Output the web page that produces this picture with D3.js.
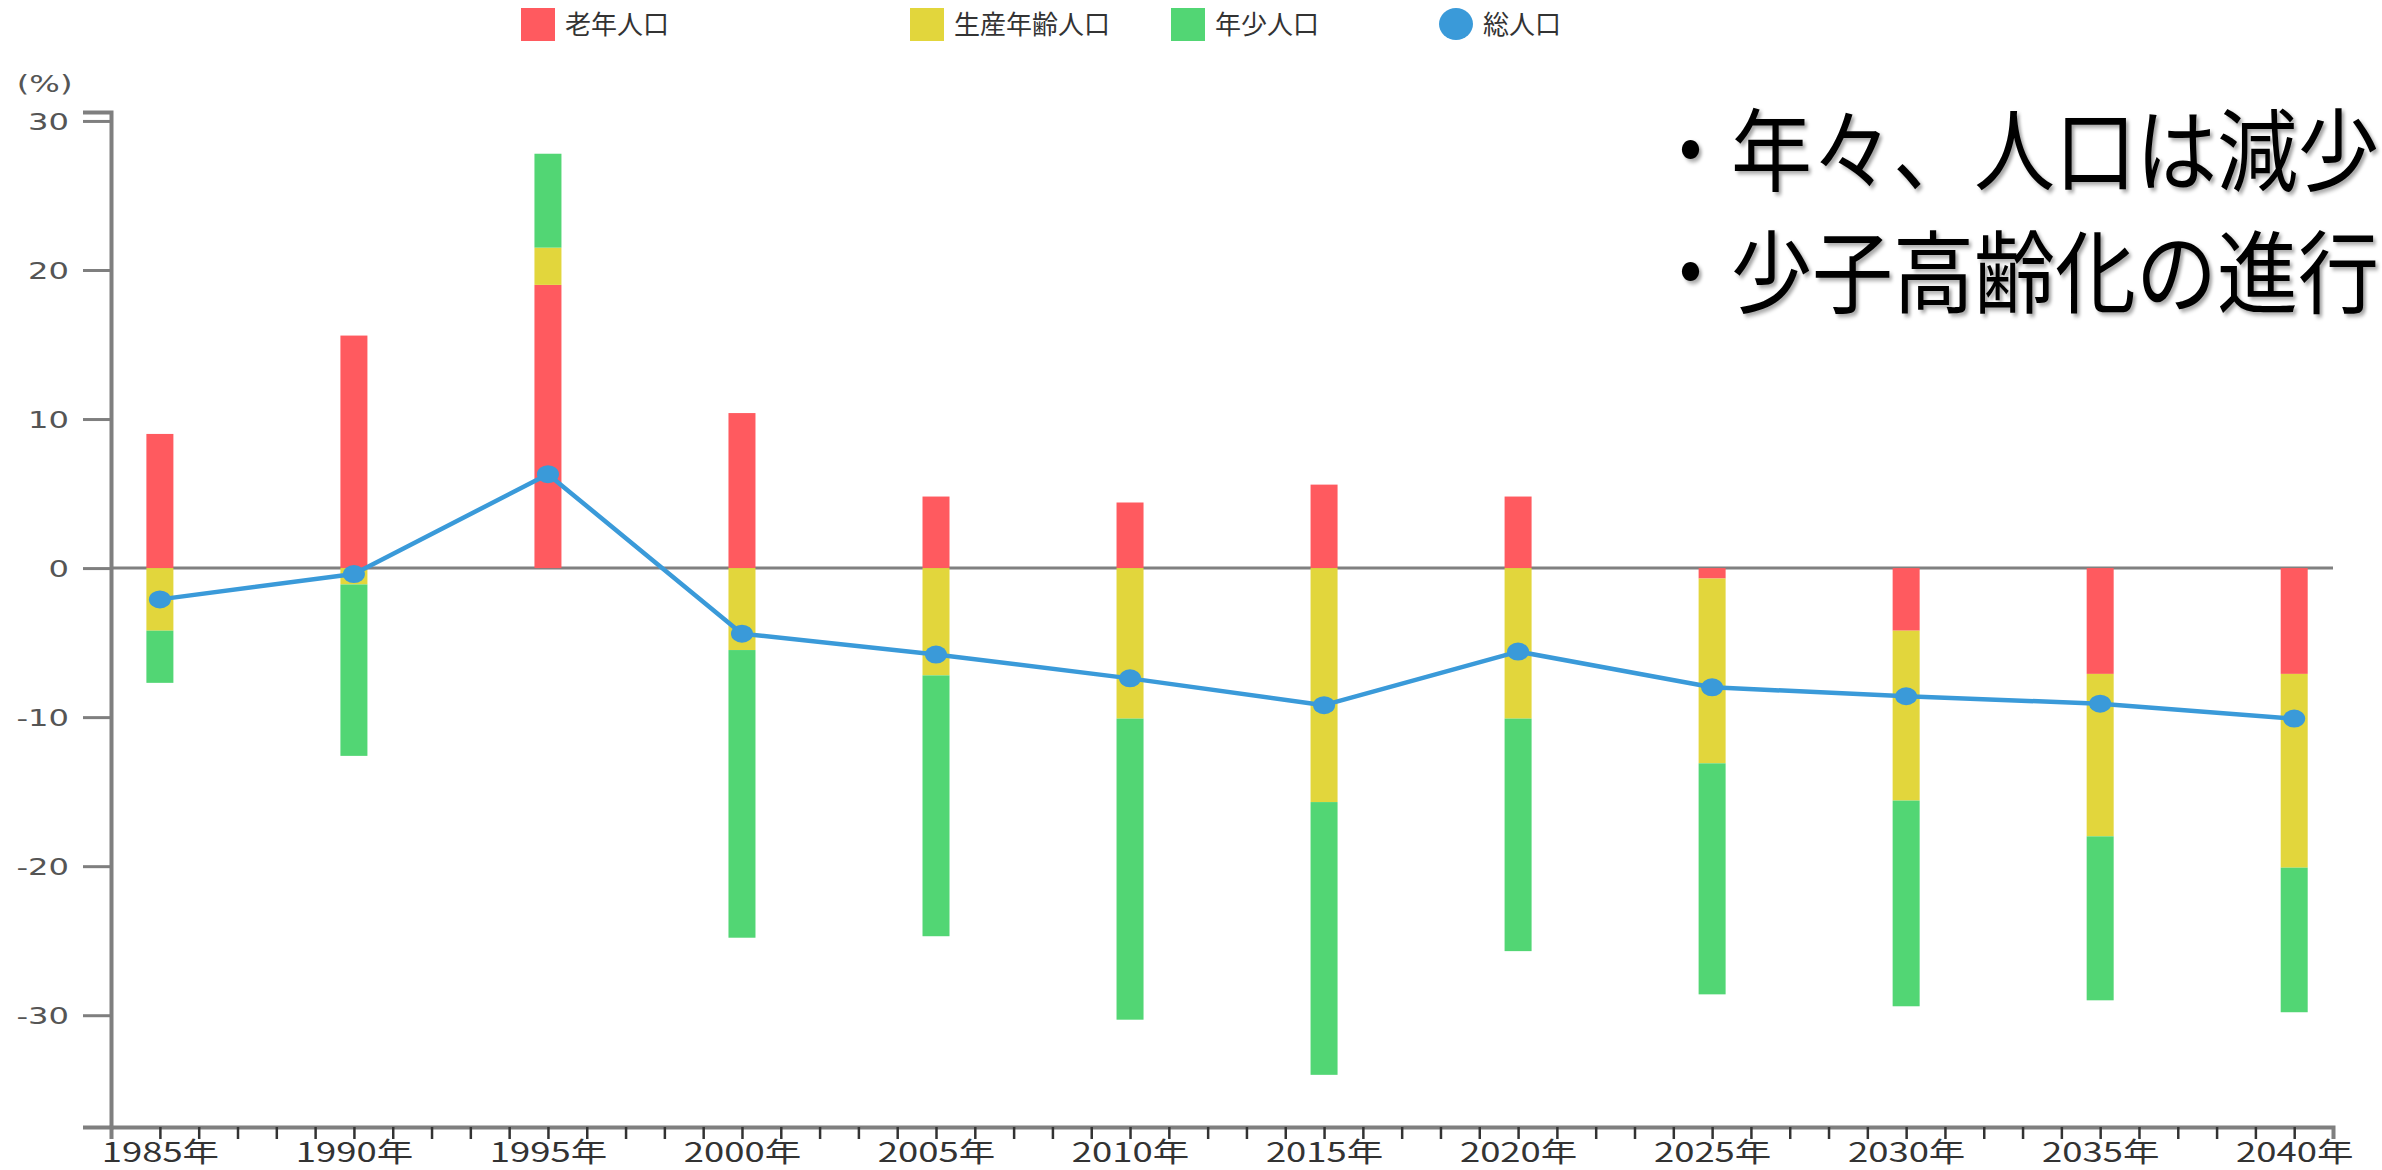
<!DOCTYPE html>
<html>
<head>
<meta charset="utf-8">
<script src="https://cdn.jsdelivr.net/npm/d3@7"></script>
<style>
  html, body { margin: 0; padding: 0; background: #ffffff; overflow: hidden; }
  svg { display: block; }
</style>
</head>
<body>
<svg id="chart" width="2382" height="1170"></svg>
<script>
// ---- data ----
const years = [1985, 1990, 1995, 2000, 2005, 2010, 2015, 2020, 2025, 2030, 2035, 2040];
const elderly = [9.0, 15.6, 19.0, 10.4, 4.8, 4.4, 5.6, 4.8, -0.7, -4.2, -7.1, -7.1];       // 老年人口
const working = [-4.2, -1.1, 2.5, -5.5, -7.2, -10.1, -15.7, -10.1, -12.4, -11.4, -10.9, -13.0]; // 生産年齢人口
const youth = [-3.5, -11.5, 6.3, -19.3, -17.5, -20.2, -18.3, -15.6, -15.5, -13.8, -11.0, -9.7];  // 年少人口
const total = [-2.1, -0.4, 6.3, -4.4, -5.8, -7.4, -9.2, -5.6, -8.0, -8.6, -9.1, -10.1];       // 総人口
const yTicks = [30, 20, 10, 0, -10, -20, -30];
const seriesNames = ["老年人口", "生産年齢人口", "年少人口", "総人口"];
const seriesKeys = ["elderly", "working", "youth"];
const colors = { elderly: "#ff5a5f", working: "#e2d63c", youth: "#52d674", total: "#3a9ad9" };
const notes = ["・年々、人口は減少", "・少子高齢化の進行"];

const rows = years.map((yr, i) => ({ year: yr, elderly: elderly[i], working: working[i], youth: youth[i], total: total[i] }));

const svg = d3.select("#chart");

// ---- scales ----
const x = d3.scaleLinear().domain([1983.74, 2041.0]).range([111, 2333]);
const y = d3.scaleLinear().domain([-37.5, 30.6]).range([1127, 112]);
const barW = 27;
const axisGray = "#7f7f7f";

// ---- zero line ----
svg.append("line")
  .attr("x1", x.range()[0]).attr("x2", x.range()[1])
  .attr("y1", y(0)).attr("y2", y(0))
  .attr("stroke", "#808080").attr("stroke-width", 3);

// ---- stacked bars ----
const stack = d3.stack().keys(seriesKeys).offset(d3.stackOffsetDiverging);
const stacked = stack(rows);
svg.append("g").selectAll("g").data(stacked).join("g")
  .attr("fill", d => colors[d.key])
  .selectAll("rect").data(d => d).join("rect")
  .attr("x", d => x(d.data.year) - barW / 2)
  .attr("width", barW)
  .attr("y", d => y(Math.max(d[0], d[1])))
  .attr("height", d => Math.abs(y(d[0]) - y(d[1])));

// ---- total line ----
const line = d3.line().x(d => x(d.year)).y(d => y(d.total));
svg.append("path").datum(rows)
  .attr("d", line).attr("fill", "none")
  .attr("stroke", colors.total).attr("stroke-width", 4.5).attr("stroke-linejoin", "round");
svg.append("g").selectAll("ellipse").data(rows).join("ellipse")
  .attr("cx", d => x(d.year)).attr("cy", d => y(d.total))
  .attr("rx", 11).attr("ry", 9)
  .attr("fill", colors.total);

// ---- y axis ----
const yAxis = d3.axisLeft(y).tickValues(yTicks).tickSize(28).tickSizeOuter(28).tickFormat(d => String(d));
const gy = svg.append("g").attr("transform", `translate(${x.range()[0]},0)`).call(yAxis);
gy.select(".domain").attr("stroke", axisGray).attr("stroke-width", 4);
gy.selectAll(".tick line").attr("stroke", axisGray).attr("stroke-width", 3);
gy.selectAll(".tick text")
  .attr("x", -30).attr("dy", "0.36em")
  .attr("transform", "scale(1.4,1)")
  .attr("fill", "#555").attr("font-family", "DejaVu Sans").attr("font-size", 23)
  .attr("text-anchor", "end");

svg.append("text")
  .attr("x", 12).attr("y", 92)
  .attr("transform", "scale(1.4,1)")
  .attr("fill", "#555").attr("font-family", "DejaVu Sans").attr("font-size", 23)
  .text("(%)");

// ---- x axis ----
const xAxis = d3.axisBottom(x).tickValues(d3.range(1985, 2041)).tickSize(12).tickSizeOuter(12)
  .tickFormat(d => (d % 5 === 0 ? d + "年" : ""));
const gx = svg.append("g").attr("transform", `translate(0,${y.range()[0]})`).call(xAxis);
gx.select(".domain").attr("stroke", axisGray).attr("stroke-width", 4);
gx.selectAll(".tick line").attr("stroke", "#333").attr("stroke-width", 2.5);
gx.selectAll(".tick text")
  .attr("y", 35).attr("dy", 0)
  .attr("transform", "scale(1.35,1)")
  .attr("fill", "#333").attr("font-family", "Noto Sans CJK JP").attr("font-size", 27);

// ---- legend ----
const legendItems = [
  { name: seriesNames[0], color: colors.elderly, x: 521, shape: "rect" },
  { name: seriesNames[1], color: colors.working, x: 910, shape: "rect" },
  { name: seriesNames[2], color: colors.youth, x: 1171, shape: "rect" },
  { name: seriesNames[3], color: colors.total, x: 1439, shape: "circle" }
];
const lg = svg.append("g").selectAll("g").data(legendItems).join("g")
  .attr("transform", d => `translate(${d.x},0)`);
lg.filter(d => d.shape === "rect").append("rect")
  .attr("x", 0).attr("y", 8).attr("width", 34).attr("height", 33).attr("fill", d => d.color);
lg.filter(d => d.shape === "circle").append("ellipse")
  .attr("cx", 17).attr("cy", 24).attr("rx", 17).attr("ry", 16).attr("fill", d => d.color);
lg.append("text")
  .attr("x", 44).attr("y", 34)
  .attr("fill", "#333").attr("font-family", "Noto Sans CJK JP").attr("font-size", 26)
  .text(d => d.name);

// ---- annotation ----
const defs = svg.append("defs");
const f = defs.append("filter").attr("id", "shadow").attr("x", "-5%").attr("y", "-20%").attr("width", "110%").attr("height", "140%");
f.append("feDropShadow").attr("dx", 3).attr("dy", 3).attr("stdDeviation", 2)
  .attr("flood-color", "#000").attr("flood-opacity", 0.35);

svg.append("g").selectAll("text").data(notes).join("text")
  .attr("x", 0).attr("y", 0)
  .attr("transform", (d, i) => `translate(1650,${184 + i * 122}) scale(0.9,1)`)
  .attr("font-family", "Noto Sans CJK JP").attr("font-size", 90)
  .attr("fill", "#000").attr("filter", "url(#shadow)")
  .text(d => d);
</script>
</body>
</html>
